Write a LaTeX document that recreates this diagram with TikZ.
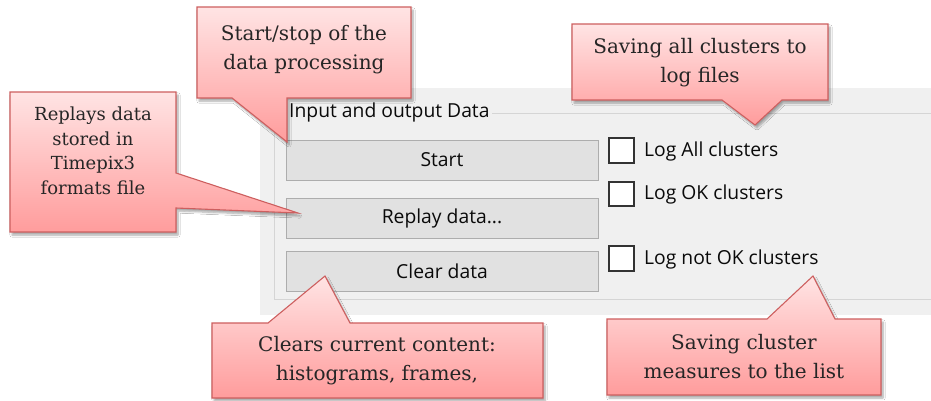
\documentclass[tikz,border=0pt]{standalone}
\usepackage{fontspec}
\setmainfont{DejaVu Serif}
\newfontfamily\uifont{Open Sans}
\usetikzlibrary{shadows.blur}

\definecolor{panelbg}{RGB}{240,240,240}
\definecolor{groupline}{RGB}{213,213,213}
\definecolor{btnfill}{RGB}{225,225,225}
\definecolor{btnline}{RGB}{173,173,173}
\definecolor{boxline}{RGB}{51,51,51}
\definecolor{calltop}{RGB}{255,228,228}
\definecolor{callbot}{RGB}{255,156,156}
\definecolor{callline}{RGB}{205,95,95}
\definecolor{calltext}{RGB}{38,38,38}
\definecolor{uitext}{RGB}{10,10,10}

\tikzset{
  callout/.style={draw=callline, line width=1.1pt, line join=miter,
    top color=calltop, bottom color=callbot,
    blur shadow={shadow xshift=2pt, shadow yshift=-3pt, shadow opacity=35, shadow blur steps=6}},
  calltxt/.style={text=calltext, align=center, font=\fontsize{20}{29}\selectfont, inner sep=0pt},
  calltxtsmall/.style={text=calltext, align=center, font=\fontsize{18}{24.5}\selectfont, inner sep=0pt},
  button/.style={draw=btnline, fill=btnfill, line width=1pt},
  uilabel/.style={text=uitext, font=\uifont\fontsize{19.3}{22}\selectfont, inner sep=0pt},
  checkbox/.style={draw=boxline, fill=white, line width=1.1pt},
}

\begin{document}
\begin{tikzpicture}[x=1pt,y=-1pt]
\useasboundingbox[fill=white] (0,0) rectangle (931,400);

% dialog panel and group box
\fill[panelbg] (260,88) rectangle (931,315);
\draw[groupline, line width=1pt] (931,113) -- (274,113) -- (274,299) -- (931,299);
\node[uilabel, anchor=west, fill=panelbg, inner xsep=2pt, inner ysep=3pt] (grouptitle) at (287,112) {Input and output Data};

% push buttons
\draw[button] (286,140) rectangle (598,180);
\node[uilabel] (startbtn) at (442,160) {Start};
\draw[button] (286,198) rectangle (598,238);
\node[uilabel] (replaybtn) at (442,218) {Replay data...};
\draw[button] (286,251) rectangle (598,291);
\node[uilabel] (clearbtn) at (442,271) {Clear data};

% check boxes
\draw[checkbox] (609,138) rectangle (634,163);
\node[uilabel, anchor=west] (logall) at (644,151) {Log All clusters};
\draw[checkbox] (609,182) rectangle (634,206);
\node[uilabel, anchor=west] (logok) at (644,194) {Log OK clusters};
\draw[checkbox] (609,246) rectangle (634,271);
\node[uilabel, anchor=west] (lognotok) at (644,259) {Log not OK clusters};

% callout: start/stop
\coordinate (tipstart) at (287,142);
\path[callout] (197,7) -- (411,7) -- (411,98) -- (287,98) -- (tipstart) -- (232,98) -- (197,98) -- cycle;
\node[calltxt] (cstart) at (304,50) {Start/stop of the\\data processing};

% callout: replay
\coordinate (tipreplay) at (298,213);
\path[callout] (10,92) -- (176,92) -- (176,173) -- (tipreplay) -- (176,208) -- (176,232) -- (10,232) -- cycle;
\node[calltxtsmall] (creplay) at (93,151) {Replays data\\stored in\\Timepix3\\formats file};

% callout: saving all clusters
\coordinate (tiplogall) at (755,125);
\path[callout] (572,24) -- (828,24) -- (828,100) -- (782,100) -- (tiplogall) -- (722,100) -- (572,100) -- cycle;
\node[calltxt] (clogall) at (700,63) {Saving all clusters to\\log files};

% callout: clear
\coordinate (tipclear) at (325,276);
\path[callout] (212,323) -- (268,323) -- (tipclear) -- (350,323) -- (543,323) -- (543,398) -- (212,398) -- cycle;
\node[calltxt] (cclear) at (377,361) {Clears current content:\\histograms, frames,};

% callout: cluster measures
\coordinate (tipmeasure) at (813,276);
\path[callout] (607,319) -- (767,319) -- (tipmeasure) -- (835,319) -- (881,319) -- (881,395) -- (607,395) -- cycle;
\node[calltxt] (cmeasure) at (744,357) {Saving cluster\\measures to the list};
\end{tikzpicture}
\end{document}
